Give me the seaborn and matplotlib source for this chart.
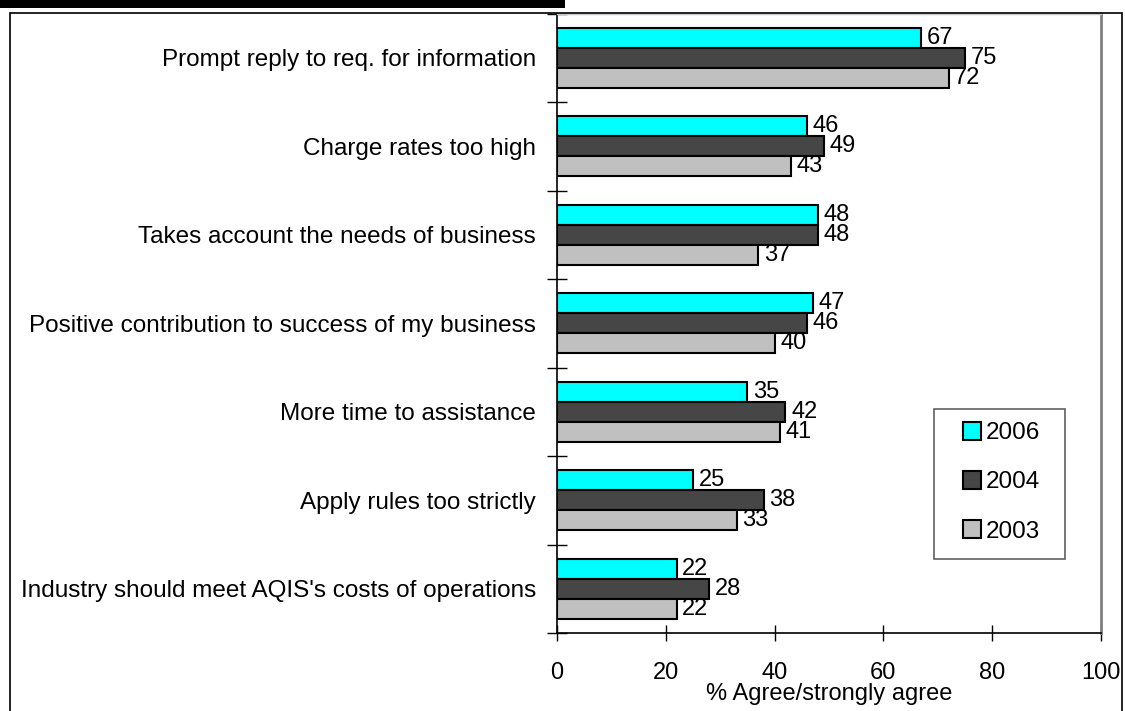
import matplotlib
matplotlib.use("Agg")
import matplotlib.pyplot as plt
from matplotlib.patches import Rectangle
import seaborn as sns
import pandas as pd

categories = [
    "Prompt reply to req. for information",
    "Charge rates too high",
    "Takes account the needs of business",
    "Positive contribution to success of my business",
    "More time to assistance",
    "Apply rules too strictly",
    "Industry should meet AQIS's costs of operations",
]
years = ["2006", "2004", "2003"]
values_2006 = [67, 46, 48, 47, 35, 25, 22]
values_2004 = [75, 49, 48, 46, 42, 38, 28]
values_2003 = [72, 43, 37, 40, 41, 33, 22]
x_ticks = [0, 20, 40, 60, 80, 100]
colors = ["#00FFFF", "#464646", "#C0C0C0"]

rows = []
for yr, vals in zip(years, [values_2006, values_2004, values_2003]):
    for cat, v in zip(categories, vals):
        rows.append({"category": cat, "year": yr, "value": v})
df = pd.DataFrame(rows)

sns.set_theme(style="white")
plt.rcParams["font.family"] = ["Liberation Sans", "DejaVu Sans"]
for key in ["text.color", "axes.labelcolor", "xtick.color", "ytick.color"]:
    plt.rcParams[key] = "black"

W, H = 1125, 711
fig = plt.figure(figsize=(W / 100, H / 100), dpi=100)
ax = fig.add_axes([557 / W, 1 - 633 / H, 544 / W, 619.5 / H])

sns.barplot(data=df, x="value", y="category", hue="year", hue_order=years,
            order=categories, palette=colors, orient="h", width=0.68,
            edgecolor="black", linewidth=1.5, saturation=1, ax=ax)

for cont in ax.containers:
    ax.bar_label(cont, padding=4, fontsize=17, color="black")

ax.set_xlim(0, 100)
ax.set_ylim(len(categories) - 0.5, -0.5)
ax.set_xticks(x_ticks)
ax.set_xticklabels([str(t) for t in x_ticks], fontsize=17)
ax.tick_params(axis="x", direction="inout", length=12, width=1, color="black",
               pad=15, bottom=True)
ax.set_xlabel("% Agree/strongly agree", fontsize=17, labelpad=-1)

ax.set_yticks(range(len(categories)))
ax.set_yticklabels(categories, fontsize=17.5)
ax.tick_params(axis="y", which="major", length=0, pad=15)
ax.set_yticks([i - 0.5 for i in range(len(categories) + 1)], minor=True)
ax.tick_params(axis="y", which="minor", direction="inout", length=14,
               width=1, color="black", left=True)
ax.set_ylabel("")

for side in ["left", "bottom"]:
    ax.spines[side].set_color("black")
    ax.spines[side].set_linewidth(1.2)
ax.spines["right"].set_color("#808080")
ax.spines["right"].set_linewidth(2)
ax.spines["top"].set_color("#C8C8C8")
ax.spines["top"].set_linewidth(1)

# legend entries without their own frame; a separate box is drawn around them
handles, labels = ax.get_legend_handles_labels()
leg = ax.legend(handles, labels, loc="upper left",
                bbox_to_anchor=((963 - 557) / 544, 1 - (422 - 13.5) / 619.5),
                borderaxespad=0, borderpad=0, fontsize=17.5,
                handlelength=0.75, handleheight=0.75, handletextpad=0.2,
                labelspacing=1.1, frameon=False)
for h in leg.legend_handles:
    h.set_edgecolor("black")
    h.set_linewidth(1.5)
ax.add_patch(Rectangle(((934 - 557) / 544, 1 - (559 - 13.5) / 619.5),
                       131 / 544, 150 / 619.5, transform=ax.transAxes,
                       fill=False, edgecolor="#606060", linewidth=1.2,
                       clip_on=False, zorder=6))

# outer frame and header rule
fig.patches.append(Rectangle((10 / W, -0.01), 1112 / W, 1 - 13 / H + 0.01,
                             transform=fig.transFigure, fill=False,
                             edgecolor="black", linewidth=1.2, zorder=0))
fig.patches.append(Rectangle((0, 1 - 8 / H), 565 / W, 8 / H,
                             transform=fig.transFigure, facecolor="black",
                             edgecolor="none", zorder=5))

fig.savefig("out.png", dpi=100)
